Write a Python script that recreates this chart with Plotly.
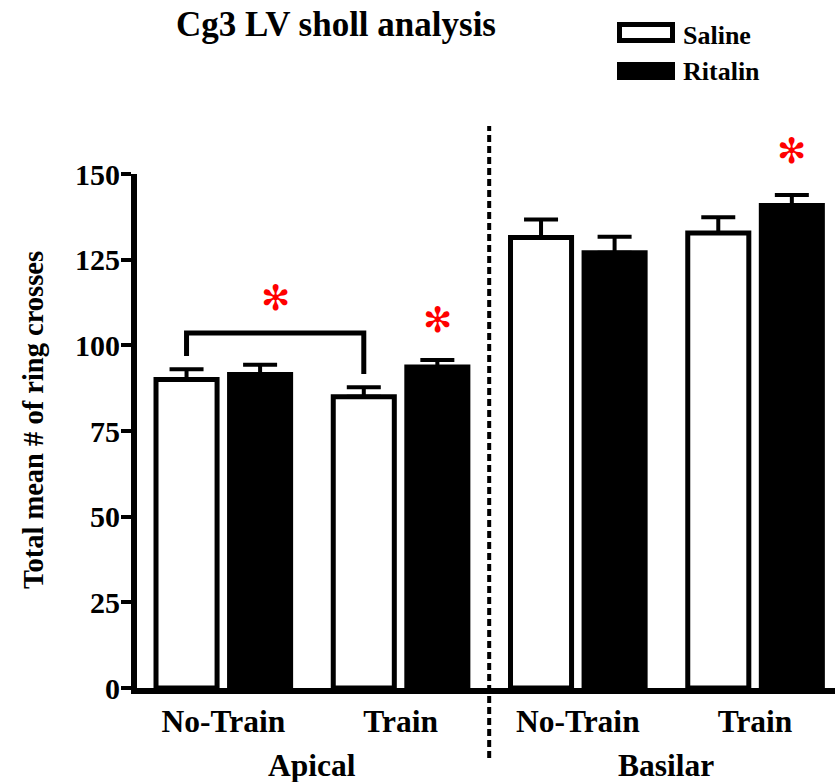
import plotly.graph_objects as go

# ---- data ----
regions = ["Apical", "Basilar"]
conditions = ["No-Train", "Train", "No-Train", "Train"]
x_pos = [0, 1, 2, 3]
saline_mean = [90.0, 85.0, 131.5, 132.8]
saline_sem = [3.0, 2.8, 5.2, 4.6]
ritalin_mean = [91.5, 93.7, 127.0, 140.8]
ritalin_sem = [2.8, 2.0, 4.7, 3.1]
y_ticks = [0, 25, 50, 75, 100, 125, 150]
y_max = 150

# comparison bracket heights (left foot, bar, right foot) and star heights
bracket_y = [96.9, 103.6, 103.6, 91.6]
star_y = [113.8, 107.4, 156.7]

# ---- layout geometry ----
W, H = 835, 782
M_L, M_R, M_T, M_B = 137, 0, 174, 94
PW, PH = W - M_L - M_R, H - M_T - M_B
BARGAP = 0.17
BARGROUPGAP = 0.17
SLOT = (1 - BARGAP) / 2          # width of one bar slot inside a group


def px(xp):
    return (xp - M_L) / PW


def py(yp):
    return (H - M_B - yp) / PH


SERIF = "Liberation Serif"
err_style = dict(type="data", symmetric=False, color="black", thickness=4, width=17)

fig = go.Figure()
fig.add_trace(go.Bar(
    name="Saline", x=x_pos, y=saline_mean,
    marker=dict(color="white", line=dict(color="black", width=5)),
    error_y=dict(array=saline_sem, arrayminus=[0] * len(saline_sem), **err_style),
    showlegend=False, hoverinfo="skip",
))
fig.add_trace(go.Bar(
    name="Ritalin", x=x_pos, y=ritalin_mean,
    marker=dict(color="black", line=dict(color="black", width=5)),
    error_y=dict(array=ritalin_sem, arrayminus=[0] * len(ritalin_sem), **err_style),
    showlegend=False, hoverinfo="skip",
))

# bracket linking the two apical saline bars
x_sal_nt = x_pos[0] - SLOT / 2
x_sal_t = x_pos[1] - SLOT / 2
fig.add_trace(go.Scatter(
    x=[x_sal_nt, x_sal_nt, x_sal_t, x_sal_t], y=bracket_y,
    mode="lines", line=dict(color="black", width=5),
    showlegend=False, hoverinfo="skip", cliponaxis=False,
))

# significance stars (placed in paper space so the top one may sit above the axis)
star_x = [(x_sal_nt + x_sal_t) / 2, x_pos[1] + SLOT / 2, x_pos[3] + SLOT / 2]

shapes = [
    # dashed separator between apical and basilar
    dict(type="line", xref="x", yref="paper", x0=1.5, x1=1.5, y0=py(758), y1=py(126),
         line=dict(color="black", width=4, dash="7px,4px")),
    # legend swatches
    dict(type="rect", xref="paper", yref="paper",
         x0=px(619.5), x1=px(672.5), y0=py(40.5), y1=py(24.5),
         fillcolor="white", line=dict(color="black", width=5)),
    dict(type="rect", xref="paper", yref="paper",
         x0=px(617), x1=px(675), y0=py(80), y1=py(62),
         fillcolor="black", line=dict(width=0)),
]

bold = dict(family=SERIF, color="black", weight="bold")
annotations = [
    dict(text="Cg3 LV sholl analysis", xref="paper", yref="paper", x=px(336), y=py(25),
         xanchor="center", yanchor="middle", showarrow=False, font=dict(size=35, **bold)),
    dict(text="Saline", xref="paper", yref="paper", x=px(681), y=py(35),
         xanchor="left", yanchor="middle", showarrow=False, font=dict(size=26, **bold)),
    dict(text="Ritalin", xref="paper", yref="paper", x=px(681), y=py(71),
         xanchor="left", yanchor="middle", showarrow=False, font=dict(size=26, **bold)),
    dict(text="Total mean # of ring crosses", xref="paper", yref="paper",
         x=px(33), y=py(420), textangle=-90, xanchor="center", yanchor="middle",
         showarrow=False, font=dict(size=28.5, **bold)),
]
for i, reg in enumerate(regions):
    annotations.append(dict(
        text=reg, xref="x", yref="paper", x=(x_pos[2 * i] + x_pos[2 * i + 1]) / 2, y=py(765),
        xanchor="center", yanchor="middle", showarrow=False, font=dict(size=31.5, **bold)))
for sx, sy in zip(star_x, star_y):
    annotations.append(dict(
        text="\u273B", xref="x", yref="paper", x=sx, y=sy / y_max,
        xanchor="center", yanchor="middle", showarrow=False,
        font=dict(color="#ff0000", size=35, family="DejaVu Sans")))

fig.update_layout(
    width=W, height=H,
    margin=dict(l=M_L, r=M_R, t=M_T, b=M_B, pad=0),
    paper_bgcolor="white", plot_bgcolor="white",
    barmode="group", bargap=BARGAP, bargroupgap=BARGROUPGAP,
    shapes=shapes, annotations=annotations,
    xaxis=dict(
        range=[-0.487, 3.451], tickmode="array", tickvals=x_pos, ticktext=conditions,
        showline=True, linecolor="black", linewidth=6, ticks="", showgrid=False,
        zeroline=False, tickfont=dict(size=31.5, **bold),
    ),
    yaxis=dict(
        range=[0, y_max], tickmode="array", tickvals=y_ticks,
        showline=True, linecolor="black", linewidth=6, ticks="outside",
        ticklen=10, tickwidth=4, tickcolor="black", showgrid=False, zeroline=False,
        ticklabelstandoff=-5, tickfont=dict(size=30, **bold),
    ),
)

fig.write_html("out.html")
